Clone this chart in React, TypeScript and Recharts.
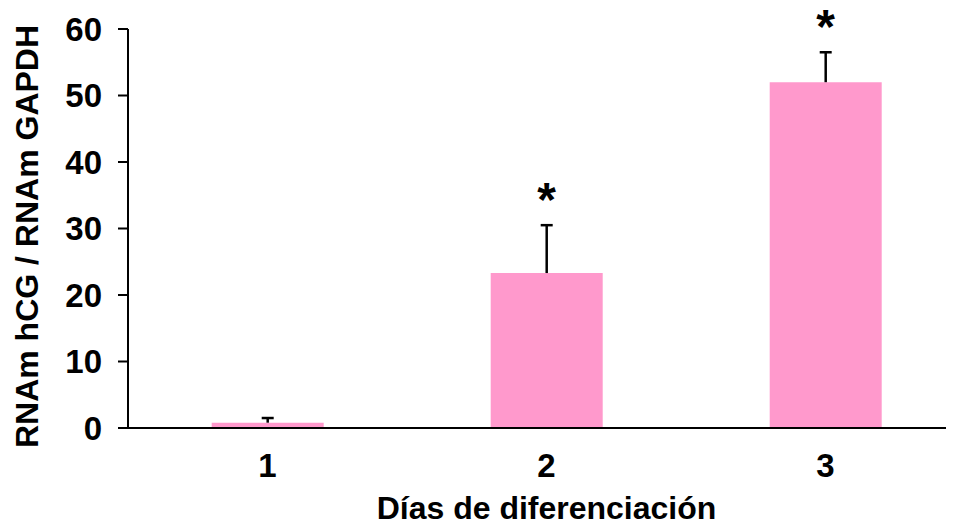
import React from "react";
import { ComposedChart, Bar, XAxis, YAxis, Label, LabelList } from "recharts";

// values
const days = ["1", "2", "3"];
const means = [0.8, 23.3, 52.0];
const sems = [0.7, 7.2, 4.5];
const significant = [false, true, true];
const yTicks = [0, 10, 20, 30, 40, 50, 60];

const data = days.map((day, i) => ({
  day,
  mean: means[i],
  sem: sems[i],
  sig: significant[i],
}));

const PINK = "#FF99CC";
const FONT = "'Liberation Sans', Arial, sans-serif";

// upper-only error bar drawn on the stacked sem segment
const ErrShape = (props: any) => {
  const { x, y, width, height } = props;
  if (x == null || y == null) return <g />;
  const cx = x + width / 2;
  return (
    <g stroke="#000" strokeWidth={2.5}>
      <line x1={cx} y1={y} x2={cx} y2={y + height} />
      <line x1={cx - 6} y1={y} x2={cx + 6} y2={y} />
    </g>
  );
};

const Star = (props: any) => {
  const { x, y, width, value } = props;
  if (!value) return null;
  return (
    <text
      x={x + width / 2}
      y={y - 9}
      textAnchor="middle"
      fontFamily={FONT}
      fontWeight="bold"
      fontSize={48}
      fill="#000"
    >
      *
    </text>
  );
};

const tickStyle = { fill: "#000", fontSize: 33, fontWeight: "bold", fontFamily: FONT };

export default function App() {
  return (
    <div style={{ width: 946, height: 515, overflow: "hidden" }}>
      <ComposedChart
        width={960}
        height={515}
        data={data}
        margin={{ top: 21, right: 3, bottom: 0, left: 0 }}
        barCategoryGap="30%"
      >
        <XAxis
          dataKey="day"
          height={95}
          tickLine={false}
          tickSize={0}
          tickMargin={26}
          axisLine={{ stroke: "#000", strokeWidth: 2 }}
          tick={tickStyle}
        >
          <Label
            content={({ viewBox }: any) => (
              <text
                x={viewBox.x + viewBox.width / 2}
                y={511}
                textAnchor="middle"
                fontFamily={FONT}
                fontWeight="bold"
                fontSize={32}
                fill="#000"
              >
                Días de diferenciación
              </text>
            )}
          />
        </XAxis>
        <YAxis
          width={120}
          domain={[0, 60]}
          ticks={yTicks}
          interval={0}
          tickSize={10}
          tickMargin={16}
          tickLine={{ stroke: "#000", strokeWidth: 2 }}
          axisLine={{ stroke: "#000", strokeWidth: 2 }}
          tick={tickStyle}
        >
          <Label
            content={({ viewBox }: any) => {
              const cx = 19;
              const cy = viewBox.y + viewBox.height / 2 + 8;
              return (
                <text
                  x={cx}
                  y={cy}
                  transform={`rotate(-90, ${cx}, ${cy})`}
                  textAnchor="middle"
                  dominantBaseline="central"
                  fontFamily={FONT}
                  fontWeight="bold"
                  fontSize={32}
                  fill="#000"
                >
                  RNAm hCG / RNAm GAPDH
                </text>
              );
            }}
          />
        </YAxis>
        <Bar dataKey="mean" stackId="a" fill={PINK} isAnimationActive={false} />
        <Bar
          dataKey="sem"
          stackId="a"
          shape={<ErrShape />}
          isAnimationActive={false}
        >
          <LabelList dataKey="sig" content={<Star />} />
        </Bar>
      </ComposedChart>
    </div>
  );
}
